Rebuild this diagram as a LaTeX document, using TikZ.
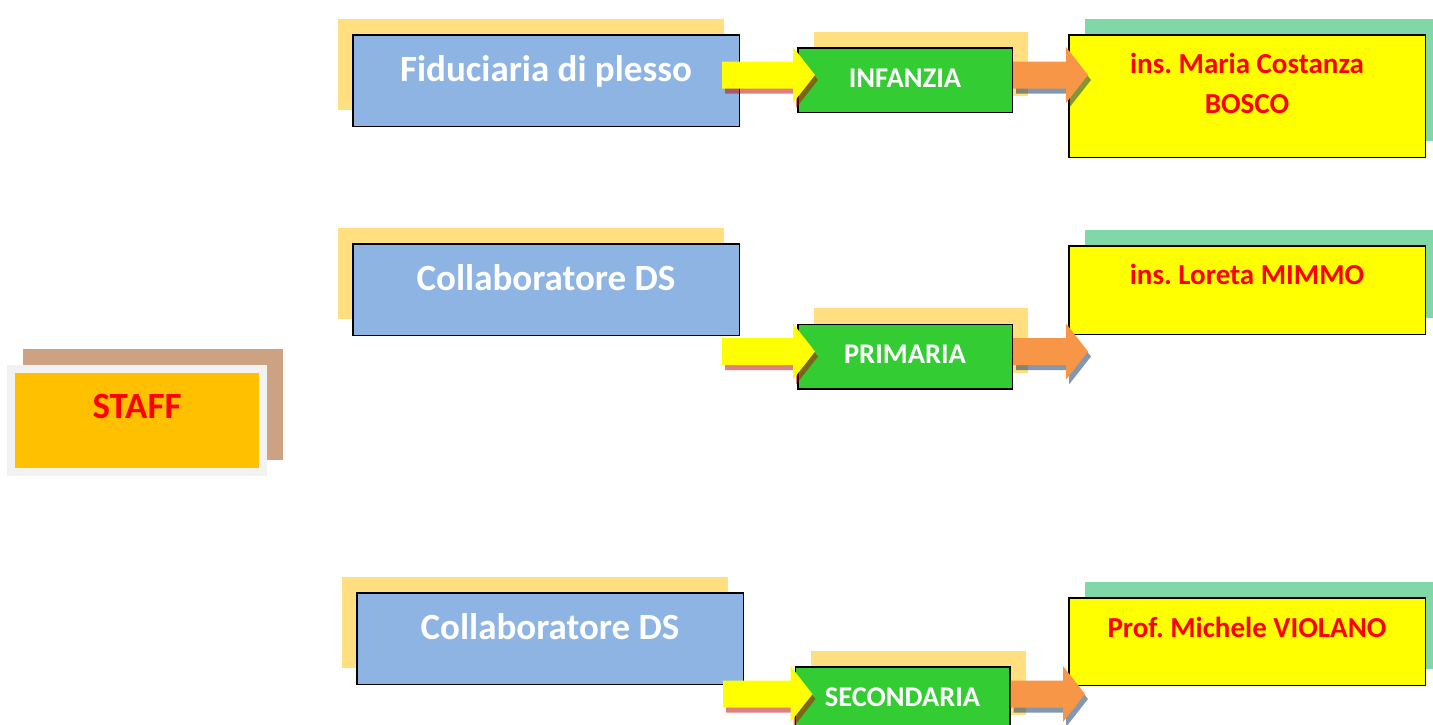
\documentclass[tikz,border=0pt]{standalone}
\usepackage{fontspec}
\setmainfont{Carlito}
\frenchspacing
\usetikzlibrary{calc}
\definecolor{boxblue}{RGB}{142,180,227}
\definecolor{shyellow}{RGB}{255,223,128}
\definecolor{boxgreen}{RGB}{51,204,51}
\definecolor{boxyellow}{RGB}{255,255,0}
\definecolor{shteal}{RGB}{128,216,168}
\definecolor{stafforange}{RGB}{255,192,0}
\definecolor{staffbrown}{RGB}{205,162,130}
\definecolor{framegray}{RGB}{242,242,242}
\definecolor{arroworange}{RGB}{247,150,70}
\definecolor{shred}{RGB}{193,0,0}
\definecolor{shnavy}{RGB}{9,47,97}
\definecolor{textred}{RGB}{255,0,0}
\newcommand{\arrowpath}[4]{($(#1)+(#3,#4-13.5)$) -- ($(#2)+(#3-22,#4-13.5)$) -- ($(#2)+(#3-22,#4-28)$) -- ($(#2)+(#3,#4)$) -- ($(#2)+(#3-22,#4+28)$) -- ($(#2)+(#3-22,#4+13.5)$) -- ($(#1)+(#3,#4+13.5)$) -- cycle}
\newcommand{\blockarrow}[4]{ \fill[#2, opacity=0.5] \arrowpath{#3}{#4}{3}{5}; \fill[#1] \arrowpath{#3}{#4}{0}{0};}
\tikzset{
  staffbox/.style={draw=framegray, line width=8pt, fill=stafforange, minimum width=252pt, minimum height=103pt,
    preaction={draw=staffbrown, fill=staffbrown, line width=8pt, transform canvas={shift={(16pt,16pt)}}}},
  bluebox/.style={draw=black, line width=1.5pt, fill=boxblue, minimum width=386.5pt, minimum height=91.5pt,
    preaction={fill=shyellow, transform canvas={shift={(-15pt,16pt)}}}},
  greenbox/.style={draw=black, line width=1.5pt, fill=boxgreen, minimum width=214.5pt, minimum height=64.5pt,
    preaction={fill=shyellow, transform canvas={shift={(16pt,16pt)}}}},
  namebox/.style={draw=black, line width=1.5pt, fill=boxyellow, minimum width=356.5pt,
    preaction={fill=shteal, transform canvas={shift={(16pt,16pt)}}}},
  stafftext/.style={anchor=base, inner sep=0pt, text=textred, font=\fontsize{37}{44}\selectfont\bfseries},
  bluetext/.style={anchor=base, inner sep=0pt, text=white, font=\fontsize{37}{44}\selectfont\bfseries},
  greentext/.style={anchor=base, inner sep=0pt, text=white, font=\fontsize{28.5}{34}\selectfont\bfseries},
  nametext/.style={anchor=base, inner sep=0pt, align=center, text=textred, font=\fontsize{29}{40}\selectfont\bfseries}
}
\begin{document}
\begin{tikzpicture}[x=1pt,y=-1pt]
  \useasboundingbox (0,0) rectangle (1433,724);
  % staff
  \node[staffbox] (staff) at (137,420.5) {};
  \node[stafftext] (stafftxt) at ($(staff.north)+(0,53)$) {STAFF};
  % row1
  \node[bluebox] (fid) at (546,80.5) {};
  \node[bluetext] (fidtxt) at ($(fid.north)+(0,47)$) {Fiduciaria di plesso};
  \node[greenbox] (inf) at (905,80) {};
  \node[greentext] (inftxt) at ($(inf.north)+(0,40)$) {INFANZIA};
  \node[namebox, minimum height=122.5pt] (bosco) at (1247,96) {};
  \node[nametext] (boscotxt) at ($(bosco.north)+(0,79)$) {ins. Maria Costanza\\BOSCO};
  % row2
  \node[bluebox] (collab) at (546,289.5) {};
  \node[bluetext] (collabtxt) at ($(collab.north)+(0,47)$) {Collaboratore DS};
  \node[greenbox] (prim) at (905,356.5) {};
  \node[greentext] (primtxt) at ($(prim.north)+(0,40)$) {PRIMARIA};
  \node[namebox, minimum height=88.5pt] (mimmo) at (1247,290) {};
  \node[nametext] (mimmotxt) at ($(mimmo.north)+(0,39)$) {ins. Loreta MIMMO};
  % row3
  \node[bluebox] (collabs) at (550,638.5) {};
  \node[bluetext] (collabstxt) at ($(collabs.north)+(0,47)$) {Collaboratore DS};
  \node[greenbox] (sec) at (902.5,699) {};
  \node[greentext] (sectxt) at ($(sec.north)+(0,40)$) {SECONDARIA};
  \node[namebox, minimum height=87.5pt] (violano) at (1247,641.5) {};
  \node[nametext] (violanotxt) at ($(violano.north)+(0,40)$) {Prof. Michele VIOLANO};

  % arrows
  \coordinate (y1s) at ($(fid.east |- inf.west)+(-18,-5)$);
  \coordinate (y1t) at ($(inf.west)+(18,-5)$);
  \coordinate (o1s) at ($(inf.east)+(0,-5)$);
  \coordinate (o1t) at ($(bosco.west |- inf.east)+(20,-5)$);
  \coordinate (y2s) at ($(collab.east |- prim.west)+(-18,-5)$);
  \coordinate (y2t) at ($(prim.west)+(18,-5)$);
  \coordinate (o2s) at ($(prim.east)+(0,-5)$);
  \coordinate (o2t) at ($(mimmo.west |- prim.east)+(20,-5)$);
  \coordinate (y3s) at ($(collabs.east |- sec.west)+(-21,-5)$);
  \coordinate (y3t) at ($(sec.west)+(18,-5)$);
  \coordinate (o3s) at ($(sec.east)+(0,-5)$);
  \coordinate (o3t) at ($(violano.west |- sec.east)+(17,-5)$);
  \blockarrow{boxyellow}{shred}{y1s}{y1t}
  \blockarrow{arroworange}{shnavy}{o1s}{o1t}
  \blockarrow{boxyellow}{shred}{y2s}{y2t}
  \blockarrow{arroworange}{shnavy}{o2s}{o2t}
  \blockarrow{boxyellow}{shred}{y3s}{y3t}
  \blockarrow{arroworange}{shnavy}{o3s}{o3t}
\end{tikzpicture}
\end{document}
